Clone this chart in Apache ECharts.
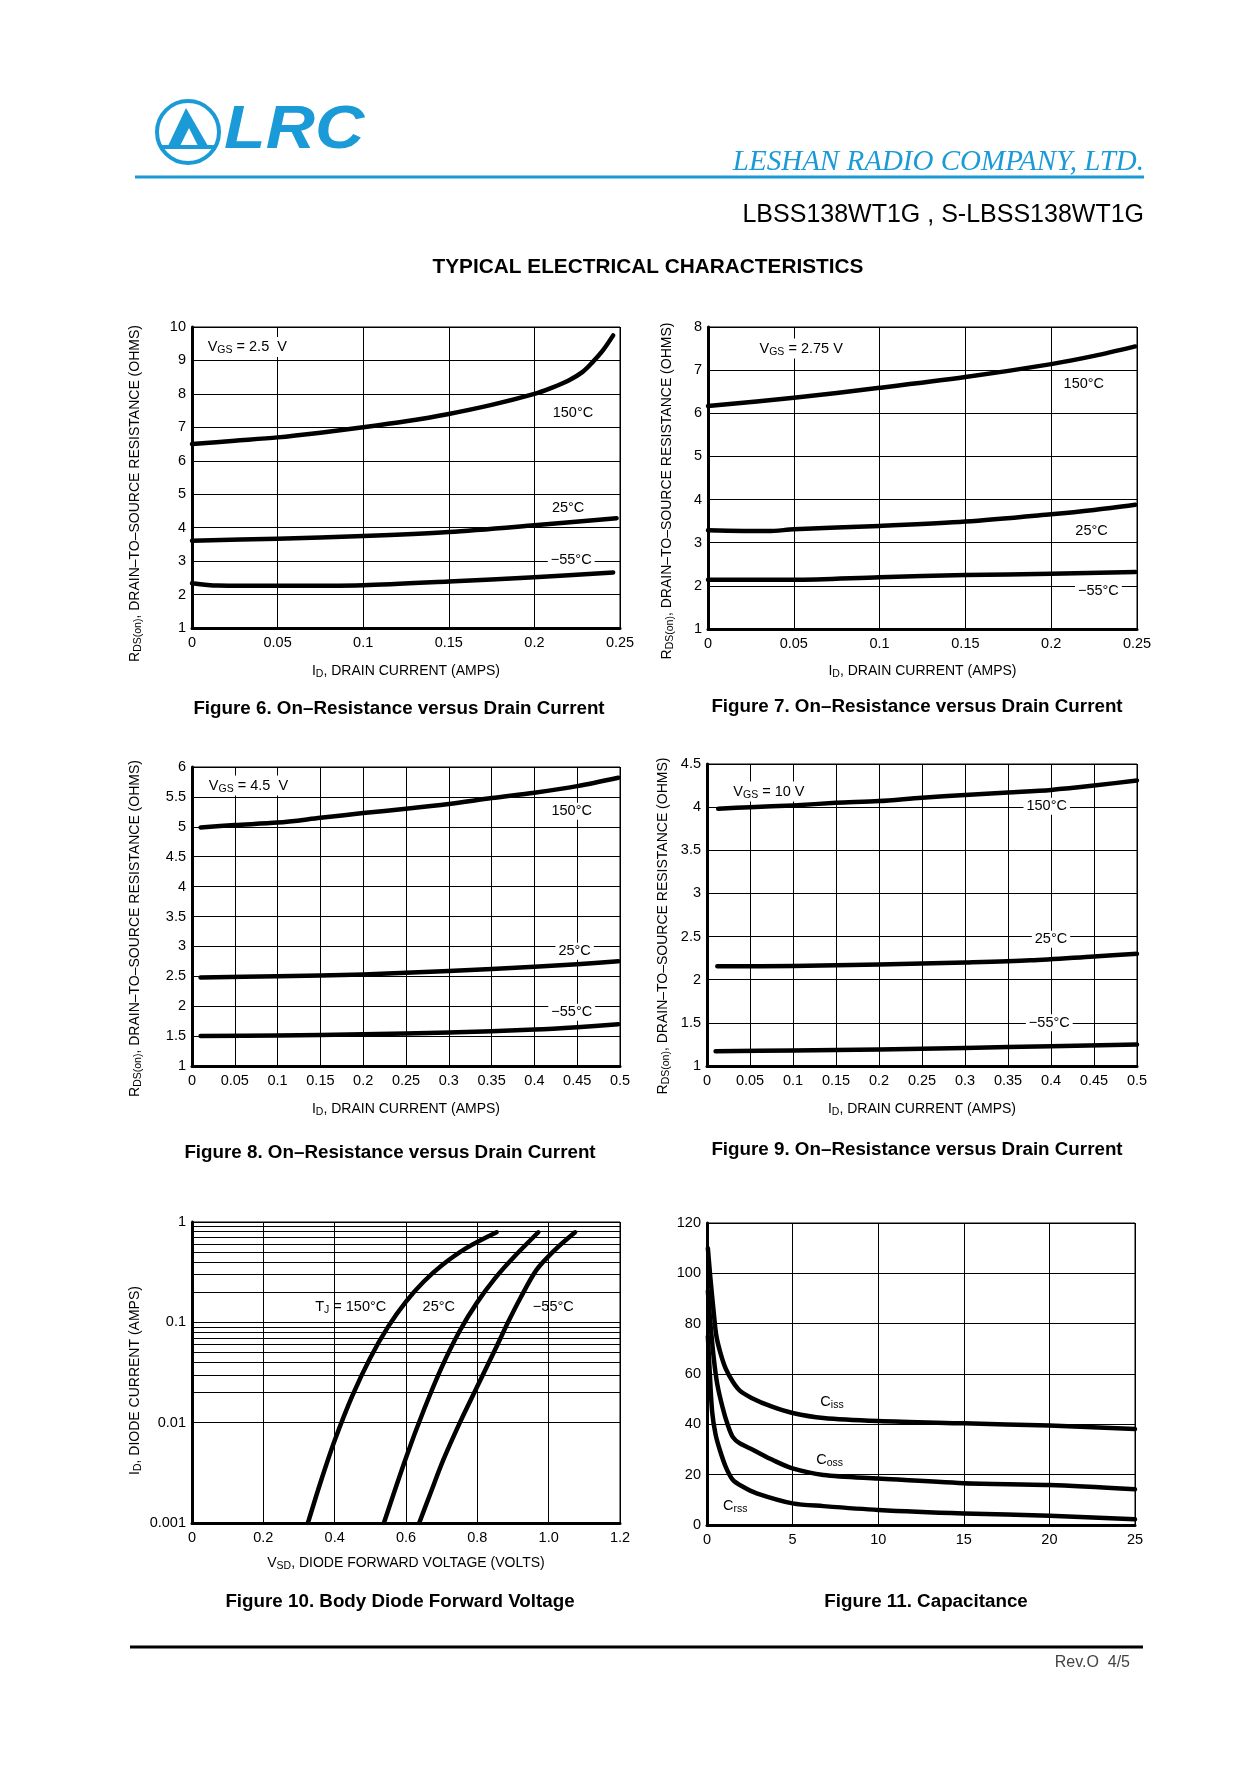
<!DOCTYPE html>
<html><head><meta charset="utf-8">
<script src="https://cdn.jsdelivr.net/npm/echarts@6.0.0/dist/echarts.min.js"></script>
<style>html,body{margin:0;padding:0;background:#fff}#c{width:1240px;height:1766px}</style>
</head><body><div id="c"></div>
<script>
// ---------------- DATA ----------------
// Figure 6: VGS = 2.5 V   [ID (A), RDS(on) (ohms)]
const fig6_150 = [[0,6.5],[0.025,6.6],[0.05,6.7],[0.075,6.84],[0.1,7.0],[0.125,7.18],[0.15,7.4],[0.175,7.67],[0.2,8.0],[0.21,8.18],[0.22,8.4],[0.228,8.65],[0.234,8.95],[0.24,9.3],[0.246,9.75]];
const fig6_25  = [[0,3.61],[0.05,3.67],[0.1,3.75],[0.15,3.87],[0.2,4.07],[0.248,4.28]];
const fig6_m55 = [[0,2.34],[0.015,2.27],[0.05,2.26],[0.1,2.28],[0.15,2.39],[0.2,2.52],[0.246,2.66]];
const fig6_labels = [['150°C',0.2225,7.43],['25°C',0.2197,4.58],['−55°C',0.2215,3.04],['{v|V}{s|GS}{v| = 2.5  V}',0.0323,9.40]];

// Figure 7: VGS = 2.75 V
const fig7_150 = [[0,6.17],[0.05,6.36],[0.1,6.59],[0.15,6.84],[0.2,7.14],[0.225,7.33],[0.249,7.55]];
const fig7_25  = [[0,3.29],[0.035,3.27],[0.05,3.31],[0.1,3.39],[0.15,3.49],[0.2,3.66],[0.225,3.76],[0.249,3.88]];
const fig7_m55 = [[0,2.14],[0.05,2.14],[0.1,2.2],[0.15,2.25],[0.2,2.28],[0.249,2.32]];
const fig7_labels = [['150°C',0.219,6.68],['25°C',0.2235,3.26],['−55°C',0.2275,1.87],['{v|V}{s|GS}{v| = 2.75 V}',0.0543,7.50]];

// Figure 8: VGS = 4.5 V
const fig8_150 = [[0.01,4.99],[0.05,5.03],[0.1,5.07],[0.15,5.15],[0.2,5.23],[0.25,5.3],[0.3,5.38],[0.35,5.48],[0.4,5.57],[0.45,5.68],[0.498,5.82]];
const fig8_25  = [[0.01,2.48],[0.1,2.5],[0.2,2.53],[0.3,2.59],[0.4,2.66],[0.45,2.7],[0.498,2.75]];
const fig8_m55 = [[0.01,1.5],[0.1,1.51],[0.2,1.53],[0.3,1.56],[0.4,1.61],[0.45,1.65],[0.498,1.7]];
const fig8_labels = [['150°C',0.4436,5.26],['25°C',0.447,2.92],['−55°C',0.4436,1.9],['{v|V}{s|GS}{v| = 4.5  V}',0.066,5.69]];

// Figure 9: VGS = 10 V
const fig9_150 = [[0.013,3.98],[0.05,4.0],[0.1,4.02],[0.15,4.05],[0.2,4.07],[0.25,4.11],[0.3,4.14],[0.35,4.17],[0.4,4.2],[0.45,4.25],[0.5,4.31]];
const fig9_25  = [[0.012,2.155],[0.1,2.16],[0.2,2.175],[0.3,2.2],[0.376,2.225],[0.45,2.27],[0.5,2.3]];
const fig9_m55 = [[0.01,1.17],[0.1,1.18],[0.2,1.19],[0.3,1.21],[0.4,1.23],[0.5,1.25]];
const fig9_labels = [['150°C',0.395,4.01],['25°C',0.4,2.47],['−55°C',0.398,1.5],['{v|V}{s|GS}{v| = 10 V}',0.072,4.18]];

// Figure 10: body diode  [VSD (V), ID (A)]
const fig10_150 = [[0.325,0.001],[0.36,0.00252],[0.4,0.00664],[0.45,0.0187],[0.5,0.0444],[0.55,0.0906],[0.6,0.161],[0.65,0.255],[0.7,0.369],[0.77,0.552],[0.854,0.79]];
const fig10_25  = [[0.538,0.001],[0.6,0.00448],[0.65,0.01337],[0.7,0.0356],[0.75,0.0815],[0.8,0.159],[0.85,0.276],[0.9,0.438],[0.971,0.79]];
const fig10_m55 = [[0.637,0.001],[0.67,0.00204],[0.704,0.0042],[0.751,0.01],[0.797,0.0219],[0.854,0.0575],[0.886,0.1],[0.919,0.17],[0.966,0.333],[1.02,0.537],[1.074,0.79]];
const fig10_minorTicks = [0.002,0.003,0.004,0.005,0.006,0.007,0.008,0.009,0.02,0.03,0.04,0.05,0.06,0.07,0.08,0.09,0.2,0.3,0.4,0.5,0.6,0.7,0.8,0.9];
const fig10_labels = [['{v|T}{s|J}{v| = 150°C}',0.445,0.143],['25°C',0.692,0.143],['−55°C',1.013,0.143]];

// Figure 11: capacitance [VDS (V), C (pF)]
const fig11_ciss = [[0.05,110],[0.2,98],[0.4,84],[0.55,75],[0.8,68],[1.1,62],[1.5,57],[1.9,53.5],[2.6,50.5],[3.8,47],[5,44.5],[6.8,42.5],[10,41.3],[15,40.4],[20,39.5],[25,38.1]];
const fig11_coss = [[0.05,93],[0.2,80],[0.4,66],[0.6,56],[0.9,47],[1.2,40],[1.5,35],[1.9,32.5],[2.7,29.8],[3.85,25.8],[5,22.5],[6.8,19.9],[10,18.5],[15,16.6],[20,15.9],[25,14.2]];
const fig11_crss = [[0.05,75],[0.15,62],[0.3,45],[0.5,36],[0.75,29.8],[1.1,23],[1.5,18],[2.1,15.2],[2.9,12.6],[5,8.6],[6.8,7.5],[10,6],[15,4.6],[20,3.7],[25,2.25]];
const fig11_labels = [['{v|C}{s|iss}',7.3,49],['{v|C}{s|oss}',7.16,26],['{v|C}{s|rss}',1.65,7.7]];

// ---------------- FONTS ----------------
function hasFont(n){const c=document.createElement('canvas').getContext('2d');const t='abcdefghijklmnopqrstuvwxyz ABCDEFGHIJ 0123456789';c.font='40px monospace';const a=c.measureText(t).width;c.font='40px "'+n+'", monospace';return c.measureText(t).width!==a;}
const NARROW = hasFont('Liberation Sans Narrow') ? '"Liberation Sans Narrow"' : (hasFont('Arial Narrow') ? '"Arial Narrow"' : null);
const NF = NARROW || '"Liberation Sans", Arial, sans-serif';
const TICK = NARROW ? 16 : 14.5;
const NAME = NARROW ? 15 : 14;
const LAB  = NARROW ? 15.5 : 14.5;
const SUB  = NARROW ? 11.5 : 10.5;
const SANS = '"Liberation Sans", Arial, Helvetica, sans-serif';
const BLUE = '#1a9ad6';

const RICH = {
  m:{fontFamily:NF,fontSize:NAME,color:'#000',lineHeight:18,verticalAlign:'middle'},
  v:{fontFamily:NF,fontSize:LAB,color:'#000',lineHeight:18,verticalAlign:'middle'},
  s:{fontFamily:NF,fontSize:SUB,color:'#000',lineHeight:10,verticalAlign:'bottom'}
};
const XN_ID = '{m|I}{s|D}{m|, DRAIN CURRENT (AMPS)}';
const YN_R  = '{m|R}{s|DS(on)}{m|, DRAIN–TO–SOURCE RESISTANCE (OHMS)}';

const panels = [
  {rect:[192,327,428,301], x:[0,0.25,0.05], y:[1,10,1], xName:XN_ID, xGap:34, yName:YN_R, yGap:48, yPad:32, series:[fig6_150,fig6_25,fig6_m55], labels:fig6_labels, bg:true},
  {rect:[708,327,429,302], x:[0,0.25,0.05], y:[1,8,1], xName:XN_ID, xGap:33, yName:YN_R, yGap:32, yPad:26, series:[fig7_150,fig7_25,fig7_m55], labels:fig7_labels, bg:true},
  {rect:[192,767,428,299], x:[0,0.5,0.05], y:[1,6,0.5], xName:XN_ID, xGap:34, yName:YN_R, yGap:48, yPad:24, series:[fig8_150,fig8_25,fig8_m55], labels:fig8_labels, bg:true},
  {rect:[707,764,430,302], x:[0,0.5,0.05], y:[1,4.5,0.5], xName:XN_ID, xGap:34, yName:YN_R, yGap:35, yPad:22, series:[fig9_150,fig9_25,fig9_m55], labels:fig9_labels, bg:true},
  {rect:[192,1222,428,301], x:[0,1.2,0.2], y:[0.001,1,null], log:true, xFmt:v=>v===0?'0':v.toFixed(1),
   xName:'{m|V}{s|SD}{m|, DIODE FORWARD VOLTAGE (VOLTS)}', xGap:31, yName:'{m|I}{s|D}{m|, DIODE CURRENT (AMPS)}', yGap:48, yPad:16,
   series:[fig10_150,fig10_25,fig10_m55], labels:fig10_labels, bg:false, minor:fig10_minorTicks},
  {rect:[707,1223,428,302], x:[0,25,5], y:[0,120,20], xName:'', yName:'', series:[fig11_ciss,fig11_coss,fig11_crss], labels:fig11_labels, bg:false}
];

const grid=[], xAxis=[], yAxis=[], series=[];
panels.forEach((p,i)=>{
  grid.push({left:p.rect[0],top:p.rect[1],width:p.rect[2],height:p.rect[3],show:true,borderColor:'#000',borderWidth:1,backgroundColor:'transparent',containLabel:false});
  xAxis.push({gridIndex:i,type:'value',min:p.x[0],max:p.x[1],interval:p.x[2],
    axisLine:{show:true,onZero:false,lineStyle:{color:'#000',width:3}},axisTick:{show:false},
    splitLine:{show:true,lineStyle:{color:'#000',width:1}},
    axisLabel:{color:'#000',fontFamily:NF,fontSize:TICK,margin:7,formatter:p.xFmt||null,showMinLabel:true,showMaxLabel:true},
    name:p.xName,nameLocation:'middle',nameGap:p.xGap||30,nameTextStyle:{fontFamily:NF,fontSize:NAME,color:'#000',rich:RICH}});
  const ya = {gridIndex:i,type:p.log?'log':'value',min:p.y[0],max:p.y[1],
    axisLine:{show:true,onZero:false,lineStyle:{color:'#000',width:3}},axisTick:{show:false},
    splitLine:{show:true,lineStyle:{color:'#000',width:1}},
    axisLabel:{color:'#000',fontFamily:NF,fontSize:TICK,margin:6,showMinLabel:true,showMaxLabel:true},
    name:p.yName,nameLocation:'middle',nameRotate:90,nameGap:p.yGap||40,
    nameTextStyle:{fontFamily:NF,fontSize:NAME,color:'#000',rich:RICH,padding:[0,p.yPad||0,0,0]}};
  if(p.log){ya.logBase=10; ya.axisLabel.formatter=v=>String(+(+v).toPrecision(1));}
  else ya.interval=p.y[2];
  yAxis.push(ya);
  p.series.forEach((d,k)=>{
    const s={type:'line',xAxisIndex:i,yAxisIndex:i,data:d,symbol:'none',showSymbol:false,smooth:0.3,
      lineStyle:{color:'#000',width:4.5,cap:'round',join:'round'},silent:true,z:3};
    if(k===0){
      s.markPoint={symbol:'rect',symbolSize:1,itemStyle:{color:'rgba(0,0,0,0)'},silent:true,animation:false,
        label:{show:true,position:'inside',color:'#000',fontFamily:NF,fontSize:LAB,
          backgroundColor:p.bg?'#fff':'transparent',padding:[1,3,1,3],formatter:q=>q.name,rich:RICH},
        data:p.labels.map(l=>({name:l[0],coord:[l[1],l[2]]}))};
      if(p.minor){
        s.markLine={silent:true,symbol:['none','none'],animation:false,label:{show:false},
          lineStyle:{color:'#000',width:1,type:'solid'},emphasis:{disabled:true},
          data:p.minor.map(v=>({yAxis:v}))};
      }
    }
    series.push(s);
  });
});

// ---------------- PAGE TEXT / DECORATION ----------------
const captions = [
  ['Figure 6. On–Resistance versus Drain Current',399,709],
  ['Figure 7. On–Resistance versus Drain Current',917,707],
  ['Figure 8. On–Resistance versus Drain Current',390,1153],
  ['Figure 9. On–Resistance versus Drain Current',917,1150],
  ['Figure 10. Body Diode Forward Voltage',400,1602],
  ['Figure 11. Capacitance',926,1602]
];
const graphic = [
  // logo
  {type:'circle',shape:{cx:188,cy:132,r:31},style:{fill:'none',stroke:BLUE,lineWidth:4}},
  {type:'polygon',shape:{points:[[168,146],[186,108],[208,146]]},style:{fill:BLUE}},
  {type:'polygon',shape:{points:[[180,146],[189,128],[198,146]]},style:{fill:'#fff'}},
  {type:'line',shape:{x1:160,y1:147,x2:214,y2:147},style:{stroke:BLUE,lineWidth:4}},
  {type:'text',x:224,y:162,scaleX:1.1,style:{text:'LRC',font:'italic bold 62px '+SANS,fill:BLUE,textAlign:'left',textVerticalAlign:'bottom'}},
  {type:'text',x:1144,y:162,style:{text:'LESHAN RADIO COMPANY, LTD.',font:'italic 29px "Liberation Serif", "Times New Roman", serif',fill:BLUE,textAlign:'right',textVerticalAlign:'middle'}},
  {type:'line',shape:{x1:135,y1:177,x2:1144,y2:177},style:{stroke:BLUE,lineWidth:3}},
  {type:'text',x:1144,y:215,style:{text:'LBSS138WT1G , S-LBSS138WT1G',font:'25px '+SANS,fill:'#000',textAlign:'right',textVerticalAlign:'middle'}},
  {type:'text',x:648,y:267,style:{text:'TYPICAL ELECTRICAL CHARACTERISTICS',font:'bold 20.8px '+SANS,fill:'#000',textAlign:'center',textVerticalAlign:'middle'}},
  {type:'line',shape:{x1:130,y1:1647,x2:1143,y2:1647},style:{stroke:'#000',lineWidth:3}},
  {type:'text',x:1130,y:1663,style:{text:'Rev.O  4/5',font:'16px '+SANS,fill:'#444',textAlign:'right',textVerticalAlign:'middle'}}
];
captions.forEach(c=>graphic.push({type:'text',x:c[1],y:c[2],style:{text:c[0],font:'bold 18.8px '+SANS,fill:'#000',textAlign:'center',textVerticalAlign:'middle'}}));

const chart = echarts.init(document.getElementById('c'),null,{renderer:'canvas',width:1240,height:1766});
chart.setOption({animation:false,backgroundColor:'#fff',grid,xAxis,yAxis,series,graphic});
</script></body></html>
